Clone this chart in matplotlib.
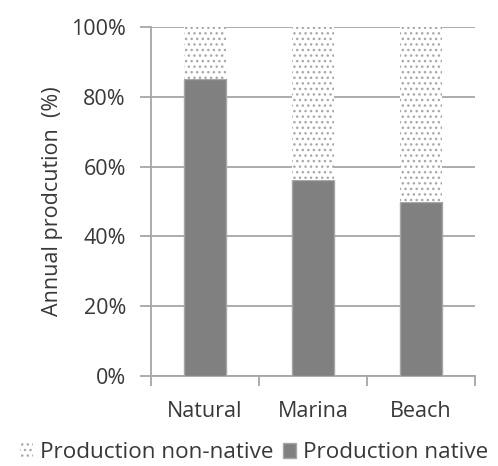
import matplotlib
matplotlib.use("Agg")
import matplotlib.pyplot as plt
from matplotlib.patches import Patch
from matplotlib.ticker import PercentFormatter

sites = ["Natural", "Marina", "Beach"]
native = [85, 56.2, 50]
non_native = [15, 43.8, 50]

plt.rcParams['font.family'] = ['Open Sans', 'DejaVu Sans']
plt.rcParams['hatch.linewidth'] = 1.0
txt = '#383838'
grid = '#a6a6a6'

fig = plt.figure(figsize=(4.98, 4.66), dpi=100)
ax = fig.add_axes([0.303, 0.193, 0.651, 0.749])

x = range(len(sites))
ax.bar(x, native, width=0.39, color='#808080', edgecolor='#a6a6a6', linewidth=1, zorder=3)
ax.bar(x, non_native, width=0.39, bottom=native, facecolor='white', edgecolor='#a8a8a8',
       hatch='...', linewidth=0, zorder=3)

ax.set_xlim(-0.5, 2.5)
ax.set_ylim(0, 100)
ax.set_yticks(range(0, 101, 20))
ax.yaxis.set_major_formatter(PercentFormatter(decimals=0))
ax.yaxis.grid(True, color=grid, linewidth=1.3, zorder=0)
ax.set_axisbelow(True)

ax.set_xticks(list(x))
ax.set_xticklabels(sites)
ax.set_xticks([-0.5, 0.5, 1.5, 2.5], minor=True)
ax.tick_params(axis='x', which='major', length=0, pad=18, labelsize=15.5, labelcolor=txt)
ax.tick_params(axis='x', which='minor', length=7, width=1.3, color=grid)
ax.tick_params(axis='y', length=8, width=1.3, color=grid, labelsize=15.5, labelcolor=txt, pad=10)

for s in ['top', 'right']:
    ax.spines[s].set_visible(False)
for s in ['left', 'bottom']:
    ax.spines[s].set_color(grid)
    ax.spines[s].set_linewidth(1.3)

ax.set_ylabel('Annual prodcution  (%)', fontsize=15.5, color=txt, labelpad=6)

handles = [Patch(facecolor='white', edgecolor='#a8a8a8', hatch='...', linewidth=0, label='Production non-native'),
           Patch(facecolor='#808080', edgecolor='#a6a6a6', label='Production native')]
fig.legend(handles=handles, loc='center', bbox_to_anchor=(0.51, 0.028), ncol=2, frameon=False,
           fontsize=16.2, handlelength=0.6, handleheight=0.6, handletextpad=0.3, columnspacing=0.4,
           labelcolor=txt, borderaxespad=0, borderpad=0)

fig.savefig('out.png', dpi=100)
